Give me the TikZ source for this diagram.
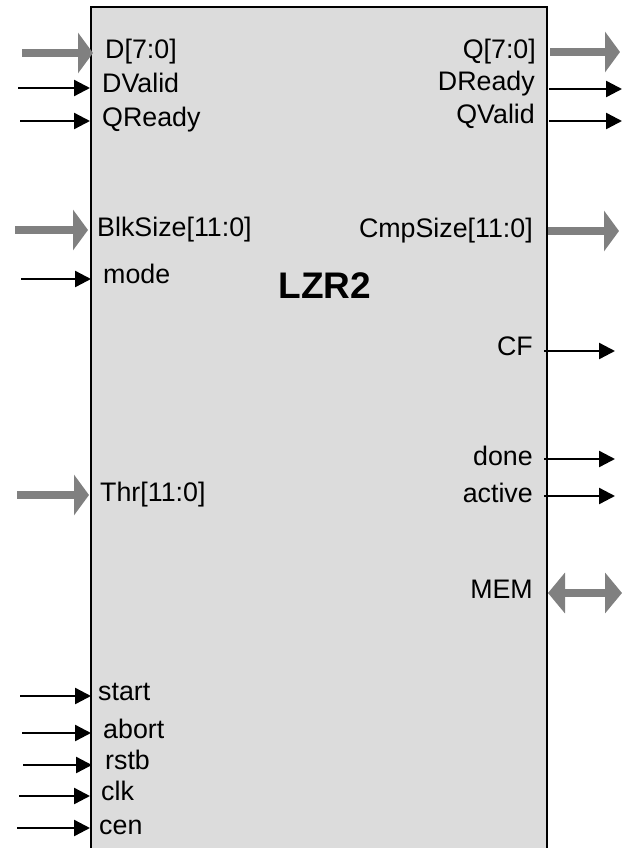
\documentclass[tikz,border=0pt]{standalone}
\usepackage{fontspec}
\setmainfont{Liberation Sans}
\usetikzlibrary{arrows.meta}
\definecolor{boxfill}{HTML}{DCDCDC}
\definecolor{busgray}{HTML}{808080}
\begin{document}
\begin{tikzpicture}[x=1pt,y=-1pt,
  sig/.style={line width=2.4pt,-{Triangle[length=16pt,width=16pt]}},
  bus/.style={line width=8.5pt,busgray,-{Triangle[length=15pt,width=40pt]}},
  bibus/.style={line width=8.5pt,busgray,{Triangle[length=17pt,width=40pt]}-{Triangle[length=17pt,width=40pt]}},
  lab/.style={inner sep=0pt,font=\fontsize{26.8}{32}\selectfont},
  blockbox/.style={draw,line width=2.3pt,fill=boxfill,inner sep=0pt,anchor=north west},
  ]
\useasboundingbox (0,0) rectangle (629,848);
\clip (0,0) rectangle (629,848);
\node[blockbox,minimum width=455.5pt,minimum height=880pt] (blk) at (90,6) {};
\node[font=\bfseries\fontsize{37}{44}\selectfont,anchor=base,inner sep=0pt] (title) at (325,298) {LZR2};

% left labels
\node[lab,anchor=base west] (lD) at (105,59) {D[7:0]};
\node[lab,anchor=base west] (lDV) at (102,93) {DValid};
\node[lab,anchor=base west] (lQR) at (102,126) {QReady};
\node[lab,anchor=base west] (lBS) at (97,236) {BlkSize[11:0]};
\node[lab,anchor=base west] (lmode) at (103,283) {mode};
\node[lab,anchor=base west] (lThr) at (100,501) {Thr[11:0]};
\node[lab,anchor=base west] (lstart) at (98,700) {start};
\node[lab,anchor=base west] (labort) at (103,738) {abort};
\node[lab,anchor=base west] (lrstb) at (105,769) {rstb};
\node[lab,anchor=base west] (lclk) at (101,800) {clk};
\node[lab,anchor=base west] (lcen) at (99,834) {cen};

% right labels
\node[lab,anchor=base east] (lQ) at (536,59) {Q[7:0]};
\node[lab,anchor=base east] (lDR) at (535,91) {DReady};
\node[lab,anchor=base east] (lQV) at (535,124) {QValid};
\node[lab,anchor=base east] (lCS) at (533,237) {CmpSize[11:0]};
\node[lab,anchor=base east] (lCF) at (533,355) {CF};
\node[lab,anchor=base east] (ldone) at (533,465) {done};
\node[lab,anchor=base east] (lactive) at (533,502) {active};
\node[lab,anchor=base east] (lMEM) at (533,598) {MEM};

% left pin coordinates
\coordinate (sD) at (22,53);   \coordinate (pD) at (93,53);
\coordinate (sDV) at (18,88);  \coordinate (pDV) at (90,88);
\coordinate (sQR) at (20,121); \coordinate (pQR) at (90,121);
\coordinate (sBS) at (15,230); \coordinate (pBS) at (88,230);
\coordinate (smode) at (21,279); \coordinate (pmode) at (91,279);
\coordinate (sThr) at (17,495); \coordinate (pThr) at (89,495);
\coordinate (sstart) at (20,696); \coordinate (pstart) at (91,696);
\coordinate (sabort) at (22,733); \coordinate (pabort) at (91,733);
\coordinate (srstb) at (23,765); \coordinate (prstb) at (92,765);
\coordinate (sclk) at (19,796); \coordinate (pclk) at (90,796);
\coordinate (scen) at (17,828); \coordinate (pcen) at (90,828);

% right pin coordinates
\coordinate (pQ) at (550,52);  \coordinate (eQ) at (620,52);
\coordinate (pDR) at (549,89); \coordinate (eDR) at (622,89);
\coordinate (pQV) at (549,121); \coordinate (eQV) at (622,121);
\coordinate (pCS) at (548,231); \coordinate (eCS) at (619,231);
\coordinate (pCF) at (544,351); \coordinate (eCF) at (615,351);
\coordinate (pdone) at (544,459); \coordinate (edone) at (615,459);
\coordinate (pactive) at (544,496); \coordinate (eactive) at (615,496);
\coordinate (pMEM) at (548,593); \coordinate (eMEM) at (622,593);

% left connectors
\draw[bus] (sD) -- (pD);
\draw[sig] (sDV) -- (pDV);
\draw[sig] (sQR) -- (pQR);
\draw[bus] (sBS) -- (pBS);
\draw[sig] (smode) -- (pmode);
\draw[bus] (sThr) -- (pThr);
\draw[sig] (sstart) -- (pstart);
\draw[sig] (sabort) -- (pabort);
\draw[sig] (srstb) -- (prstb);
\draw[sig] (sclk) -- (pclk);
\draw[sig] (scen) -- (pcen);

% right connectors
\draw[bus] (pQ) -- (eQ);
\draw[sig] (pDR) -- (eDR);
\draw[sig] (pQV) -- (eQV);
\draw[bus] (pCS) -- (eCS);
\draw[sig] (pCF) -- (eCF);
\draw[sig] (pdone) -- (edone);
\draw[sig] (pactive) -- (eactive);
\draw[bibus] (pMEM) -- (eMEM);
\end{tikzpicture}
\end{document}
